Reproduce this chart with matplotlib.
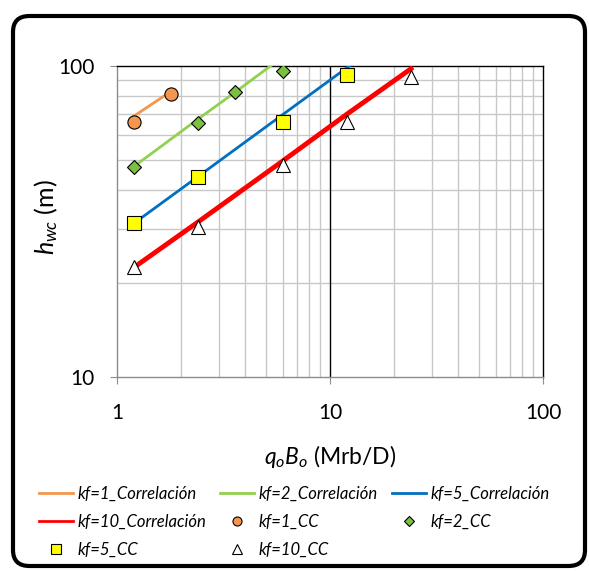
import matplotlib
matplotlib.use("Agg")
import matplotlib.pyplot as plt
from matplotlib.patches import FancyBboxPatch
from matplotlib.lines import Line2D
from matplotlib.ticker import FixedLocator, FixedFormatter, NullFormatter

plt.rcParams['font.family'] = ['Lato', 'DejaVu Sans']
plt.rcParams['mathtext.fontset'] = 'custom'
plt.rcParams['mathtext.it'] = 'Lato:italic'
plt.rcParams['mathtext.rm'] = 'Lato'

# Data
kf1_corr_x = [1.2, 1.8]
kf1_corr_y = [69.0, 83.0]
kf2_corr_x = [1.2, 2.4, 3.6, 6.0]
kf2_corr_y = [47.5, 67.5, 82.5, 107.0]
kf5_corr_x = [1.2, 2.4, 6.0, 12.0, 24.0]
kf5_corr_y = [31.2, 44.1, 69.8, 98.7, 139.0]
kf10_corr_x = [1.2, 2.4, 6.0, 12.0, 24.0]
kf10_corr_y = [22.5, 31.5, 49.5, 70.0, 98.0]

kf1_cc_x = [1.2, 1.8]
kf1_cc_y = [66.2, 81.5]
kf2_cc_x = [1.2, 2.4, 3.6, 6.0]
kf2_cc_y = [47.3, 65.7, 82.3, 96.6]
kf5_cc_x = [1.2, 2.4, 6.0, 12.0]
kf5_cc_y = [31.2, 44.1, 66.2, 93.5]
kf10_cc_x = [1.2, 2.4, 6.0, 12.0, 24.0]
kf10_cc_y = [22.5, 30.4, 48.0, 65.9, 92.4]

x_ticks = [1, 10, 100]
x_tick_labels = ['1', '10', '100']
y_ticks = [10, 100]
y_tick_labels = ['10', '100']

W, H = 589, 571
fig = plt.figure(figsize=(W / 100, H / 100), dpi=100)
fig.patch.set_facecolor('white')

border = FancyBboxPatch((13 / W, 1 - 566 / H), (585 - 13) / W, (566 - 16) / H,
                        boxstyle="round,pad=0,rounding_size=0.028",
                        transform=fig.transFigure, facecolor='none',
                        edgecolor='black', linewidth=3.0, zorder=0)
fig.patches.append(border)

ax = fig.add_axes([117 / W, 1 - 377 / H, (543 - 117) / W, (377 - 66) / H])
ax.set_xscale('log')
ax.set_yscale('log')
ax.set_xlim(1, 100)
ax.set_ylim(10, 100)

# grids
for v in [2, 3, 4, 5, 6, 7, 8, 9, 20, 30, 40, 50, 60, 70, 80, 90]:
    ax.axvline(v, color='#c8c8c8', lw=1.0, zorder=1)
for v in [20, 30, 40, 50, 60, 70, 80, 90]:
    ax.axhline(v, color='#c8c8c8', lw=1.0, zorder=1)
ax.axvline(10, color='black', lw=1.0, zorder=1)

for s in ['top', 'right']:
    ax.spines[s].set_color('black')
    ax.spines[s].set_linewidth(1.0)
for s in ['left', 'bottom']:
    ax.spines[s].set_color('#8c8c8c')
    ax.spines[s].set_linewidth(1.0)

c_or, c_gr, c_bl, c_rd = '#F4964F', '#92D050', '#0070C0', '#FF0000'
ax.plot(kf1_corr_x, kf1_corr_y, color=c_or, lw=2.0, zorder=3)
ax.plot(kf2_corr_x, kf2_corr_y, color=c_gr, lw=2.0, zorder=3)
ax.plot(kf5_corr_x, kf5_corr_y, color=c_bl, lw=2.0, zorder=3)
ax.plot(kf10_corr_x, kf10_corr_y, color=c_rd, lw=3.5, zorder=3)

ax.plot(kf1_cc_x, kf1_cc_y, ls='none', marker='o', ms=9.5, mfc=c_or, mec='black', mew=0.8, zorder=4)
ax.plot(kf2_cc_x, kf2_cc_y, ls='none', marker='D', ms=7, mfc='#7AC143', mec='black', mew=0.8, zorder=4)
ax.plot(kf5_cc_x, kf5_cc_y, ls='none', marker='s', ms=10, mfc='#FFFF00', mec='black', mew=0.8, zorder=4)
ax.plot(kf10_cc_x, kf10_cc_y, ls='none', marker='^', ms=10, mfc='white', mec='black', mew=0.8, zorder=4)

ax.xaxis.set_major_locator(FixedLocator(x_ticks))
ax.xaxis.set_major_formatter(FixedFormatter(x_tick_labels))
ax.xaxis.set_minor_formatter(NullFormatter())
ax.yaxis.set_major_locator(FixedLocator(y_ticks))
ax.yaxis.set_major_formatter(FixedFormatter(y_tick_labels))
ax.yaxis.set_minor_formatter(NullFormatter())
ax.tick_params(which='minor', length=0)
ax.tick_params(which='major', length=5, color='#8c8c8c', labelsize=15)
ax.tick_params(axis='x', which='major', pad=14)
ax.tick_params(axis='y', which='major', pad=11)

fig.text(330 / W, 1 - 457 / H, '$q_oB_o$ (Mrb/D)', fontsize=16.5, ha='center', va='center')
fig.text(46 / W, 1 - 217 / H, '$h_{wc}$ (m)', fontsize=18, ha='center', va='center', rotation=90)

# legend proxies
lab = ['kf=1_Correlación', 'kf=2_Correlación', 'kf=5_Correlación', 'kf=10_Correlación',
       'kf=1_CC', 'kf=2_CC', 'kf=5_CC', 'kf=10_CC']
h_l1 = Line2D([], [], color=c_or, lw=2.0)
h_l2 = Line2D([], [], color=c_gr, lw=2.0)
h_l5 = Line2D([], [], color=c_bl, lw=2.0)
h_l10 = Line2D([], [], color=c_rd, lw=2.0)
h_m1 = Line2D([], [], ls='none', marker='o', ms=6.5, mfc=c_or, mec='black', mew=0.8)
h_m2 = Line2D([], [], ls='none', marker='D', ms=5, mfc='#7AC143', mec='black', mew=0.8)
h_m5 = Line2D([], [], ls='none', marker='s', ms=7, mfc='#FFFF00', mec='black', mew=0.8)
h_m10 = Line2D([], [], ls='none', marker='^', ms=7, mfc='white', mec='black', mew=0.8)
handles = [h_l1, h_l10, h_m5, h_l2, h_m1, h_m10, h_l5, h_m2]
labels = [lab[0], lab[3], lab[6], lab[1], lab[4], lab[7], lab[2], lab[5]]
leg = fig.legend(handles=handles, labels=labels,
                 ncol=3, loc='upper left', bbox_to_anchor=(39 / W, 1 - 486 / H),
                 frameon=False, prop={'style': 'italic', 'size': 12},
                 handlelength=2.05, columnspacing=0.85, handletextpad=0.25,
                 labelspacing=0.72, borderpad=0, borderaxespad=0)

fig.savefig('out.png', dpi=100, facecolor='white')
